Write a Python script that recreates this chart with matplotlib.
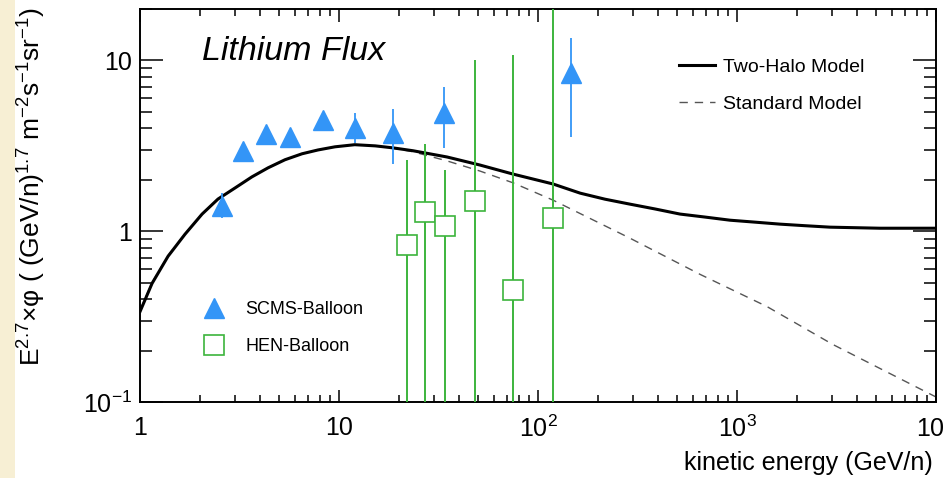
import numpy as np
import matplotlib
matplotlib.use("Agg")
import matplotlib.pyplot as plt
from matplotlib.ticker import FixedLocator, LogLocator, NullFormatter, FixedFormatter
from matplotlib.lines import Line2D
from matplotlib.patches import Rectangle

plt.rcParams['font.family'] = ['Liberation Sans', 'DejaVu Sans']
plt.rcParams['mathtext.fontset'] = 'custom'
plt.rcParams['mathtext.rm'] = 'Liberation Sans'
plt.rcParams['mathtext.it'] = 'Liberation Sans:italic'

# --- SCMS-Balloon (triangles) ---
scms_E = [2.58, 3.29, 4.30, 5.67, 8.31, 12.0, 18.7, 33.7, 146.5]
scms_flux = [1.40, 2.95, 3.72, 3.57, 4.50, 4.04, 3.77, 4.94, 8.39]
scms_lo = [1.19, 2.95, 3.72, 3.57, 4.50, 3.29, 2.48, 3.08, 3.57]
scms_hi = [1.67, 2.95, 3.72, 3.57, 4.50, 4.94, 5.22, 7.03, 13.5]

# --- HEN-Balloon (open squares) ---
hen_E = [21.9, 26.9, 34.0, 48.1, 74.9, 118.6]
hen_flux = [0.828, 1.30, 1.07, 1.50, 0.452, 1.20]
hen_lo = [0.01, 0.01, 0.01, 0.01, 0.01, 0.01]
hen_hi = [2.62, 3.25, 2.29, 10.1, 10.7, 40.0]

# --- model curves ---
two_halo_E = [1.0, 1.149, 1.383, 1.683, 2.05, 2.466, 3.00, 3.65, 4.40, 5.35, 6.52,
              7.84, 9.55, 12.0, 15.2, 18.5, 23.5, 34.9, 51.1, 74.9, 119, 163, 217,
              290, 387, 517, 691, 922, 1231, 1644, 2197, 2933, 5231, 10000]
two_halo_flux = [0.338, 0.494, 0.713, 0.960, 1.259, 1.543, 1.79, 2.08, 2.35, 2.62, 2.84,
                 2.99, 3.12, 3.21, 3.16, 3.08, 2.96, 2.72, 2.44, 2.16, 1.89, 1.67, 1.54,
                 1.44, 1.35, 1.26, 1.21, 1.16, 1.13, 1.10, 1.077, 1.056, 1.041, 1.041]
std_E = [1.0, 1.149, 1.383, 1.683, 2.05, 2.466, 3.00, 3.65, 4.40, 5.35, 6.52,
         7.84, 9.55, 12.0, 15.2, 18.5, 23.5, 34.9, 51.1, 74.9, 119, 290, 652,
         1415, 3035, 6590, 10000]
std_flux = [0.345, 0.50, 0.72, 0.965, 1.259, 1.543, 1.79, 2.08, 2.35, 2.62, 2.84,
            2.99, 3.12, 3.21, 3.16, 3.07, 2.92, 2.58, 2.25, 1.92, 1.52, 0.91, 0.559,
            0.362, 0.217, 0.137, 0.107]

x_ticks = [1, 10, 100, 1000, 10000]
x_ticklabels = ['1', '10', r'$10^{2}$', r'$10^{3}$', r'$10^{4}$']
y_ticks = [0.1, 1, 10]
y_ticklabels = [r'$10^{-1}$', '1', '10']

BLUE = '#3395f7'
GREEN = '#3cb43c'

fig = plt.figure(figsize=(9.44, 4.78), dpi=100)
fig.patches.append(Rectangle((0, 0), 15 / 944, 1, transform=fig.transFigure,
                             facecolor='#f7efd4', edgecolor='none', zorder=0))

ax = fig.add_axes([140 / 944, 1 - 402 / 478, 796 / 944, 393 / 478])
ax.set_xscale('log')
ax.set_yscale('log')
ax.set_xlim(1, 10000)
ax.set_ylim(0.1, 20)

ax.plot(std_E, std_flux, color='#555555', lw=1.0, dashes=(6, 5), zorder=2)
ax.plot(two_halo_E, two_halo_flux, color='black', lw=2.2, zorder=3,
        solid_joinstyle='round')

hen_err = [np.array(hen_flux) - np.array(hen_lo), np.array(hen_hi) - np.array(hen_flux)]
ax.errorbar(hen_E, hen_flux, yerr=hen_err, fmt='s', ms=14, mfc='white', mec=GREEN,
            mew=1.2, ecolor=GREEN, elinewidth=1.4, capsize=0, zorder=4)

scms_err = [np.array(scms_flux) - np.array(scms_lo), np.array(scms_hi) - np.array(scms_flux)]
ax.errorbar(scms_E, scms_flux, yerr=scms_err, fmt='^', ms=14, mfc=BLUE, mec=BLUE,
            ecolor=BLUE, elinewidth=1.3, capsize=0, zorder=5)

# axes styling (inward ticks on all sides)
for s in ax.spines.values():
    s.set_linewidth(1.4)
ax.xaxis.set_major_locator(FixedLocator(x_ticks))
ax.xaxis.set_major_formatter(FixedFormatter(x_ticklabels))
ax.xaxis.set_minor_locator(LogLocator(base=10, subs=np.arange(2, 10), numticks=20))
ax.xaxis.set_minor_formatter(NullFormatter())
ax.yaxis.set_major_locator(FixedLocator(y_ticks))
ax.yaxis.set_major_formatter(FixedFormatter(y_ticklabels))
ax.yaxis.set_minor_locator(LogLocator(base=10, subs=np.arange(2, 10), numticks=20))
ax.yaxis.set_minor_formatter(NullFormatter())
ax.tick_params(axis='x', which='both', direction='in', top=True, labelsize=18, pad=10, width=1.1)
ax.tick_params(axis='x', which='major', length=9)
ax.tick_params(axis='x', which='minor', length=5)
ax.tick_params(axis='y', which='both', direction='in', right=True, labelsize=18, pad=6, width=1.1)
ax.tick_params(axis='y', which='major', length=16.5)
ax.tick_params(axis='y', which='minor', length=8.5)

ax.text(0.078, 0.87, 'Lithium Flux', transform=ax.transAxes, fontsize=24.5,
        style='italic', ha='left', va='baseline')

model_handles = [Line2D([], [], color='black', lw=2.2),
                 Line2D([], [], color='#555555', lw=1.0, dashes=(6, 5))]
leg1 = ax.legend(model_handles, ['Two-Halo Model', 'Standard Model'], loc='upper left',
                 bbox_to_anchor=((679 - 140) / 796, (402 - 58) / 393), frameon=False,
                 fontsize=14, handlelength=1.85, handletextpad=0.4, labelspacing=1.0,
                 borderpad=0, borderaxespad=0)
ax.add_artist(leg1)

data_handles = [Line2D([], [], ls='none', marker='^', ms=14, mfc=BLUE, mec=BLUE),
                Line2D([], [], ls='none', marker='s', ms=14, mfc='white', mec=GREEN, mew=1.2)]
ax.legend(data_handles, ['SCMS-Balloon', 'HEN-Balloon'], loc='upper left',
          bbox_to_anchor=((200 - 140) / 796, (402 - 301) / 393), frameon=False,
          fontsize=13, handlelength=1.6, handletextpad=0.9, labelspacing=1.1,
          borderpad=0, borderaxespad=0)

fig.text(933 / 944, 1 - 470 / 478, 'kinetic energy (GeV/n)', fontsize=18,
         ha='right', va='baseline')
fig.text(32 / 944, 1 - 366 / 478,
         'E$^{2.7}$×φ ( (GeV/n)$^{1.7}$ m$^{-2}$s$^{-1}$sr$^{-1}$)',
         fontsize=19, rotation=90, ha='center', va='bottom')

fig.savefig('out.png', dpi=100)
